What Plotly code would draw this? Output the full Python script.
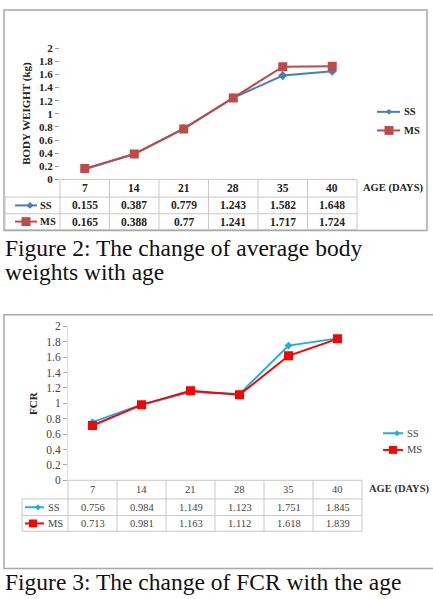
import plotly.graph_objects as go

W, H = 433, 599
ages = ["7", "14", "21", "28", "35", "40"]
bw_ss = [0.155, 0.387, 0.779, 1.243, 1.582, 1.648]
bw_ms = [0.165, 0.388, 0.77, 1.241, 1.717, 1.724]
fcr_ss = [0.756, 0.984, 1.149, 1.123, 1.751, 1.845]
fcr_ms = [0.713, 0.981, 1.163, 1.112, 1.618, 1.839]
yticks = [0, 0.2, 0.4, 0.6, 0.8, 1, 1.2, 1.4, 1.6, 1.8, 2]
ytext = ["0", "0.2", "0.4", "0.6", "0.8", "1", "1.2", "1.4", "1.6", "1.8", "2"]

SERIF = "Liberation Serif"


def X(px):
    return px / W


def Y(py):
    return 1 - py / H


fig = go.Figure()

C1_SS, C1_MS = "#4a7ebb", "#be4b48"
C2_SS, C2_MS = "#1eaee6", "#ff0000"

fig.add_trace(go.Scatter(x=ages, y=bw_ss, mode="lines+markers", xaxis="x", yaxis="y",
                         line=dict(color=C1_SS, width=2),
                         marker=dict(symbol="diamond", size=7, color=C1_SS), showlegend=False))
fig.add_trace(go.Scatter(x=ages, y=bw_ms, mode="lines+markers", xaxis="x", yaxis="y",
                         line=dict(color=C1_MS, width=2),
                         marker=dict(symbol="square", size=9, color=C1_MS), showlegend=False))
fig.add_trace(go.Scatter(x=ages, y=fcr_ss, mode="lines+markers", xaxis="x2", yaxis="y2",
                         line=dict(color=C2_SS, width=2),
                         marker=dict(symbol="diamond", size=6, color=C2_SS), showlegend=False))
fig.add_trace(go.Scatter(x=ages, y=fcr_ms, mode="lines+markers", xaxis="x2", yaxis="y2",
                         line=dict(color=C2_MS, width=2),
                         marker=dict(symbol="square", size=9, color=C2_MS), showlegend=False))

c1 = dict(x0=60, x1=357, ytop=43, ybot=177, rows=[177, 195, 212, 228], tleft=5)
c2 = dict(x0=68, x1=362, ytop=327, ybot=484, rows=[484, 503, 520, 536], tleft=22)

axcommon = dict(type="category", categoryorder="array", categoryarray=ages,
                range=[-0.5, 5.5], showticklabels=False, showgrid=False, zeroline=False,
                showline=False, ticks="")
layout = dict(
    width=W, height=H, margin=dict(l=0, r=0, t=0, b=0),
    paper_bgcolor="white", plot_bgcolor="white", showlegend=False,
    xaxis=dict(domain=[X(c1["x0"]), X(c1["x1"])], anchor="y", **axcommon),
    yaxis=dict(domain=[Y(c1["ybot"]), Y(c1["ytop"])], anchor="x", range=[0, 2],
               tickvals=yticks, ticktext=ytext, showgrid=False, zeroline=False,
               showline=False, ticks="outside", ticklen=4, tickcolor="#999",
               tickfont=dict(family=SERIF, size=11, color="#222", weight="bold")),
    xaxis2=dict(domain=[X(c2["x0"]), X(c2["x1"])], anchor="y2", **axcommon),
    yaxis2=dict(domain=[Y(c2["ybot"]), Y(c2["ytop"])], anchor="x2", range=[0, 2],
                tickvals=yticks, ticktext=ytext, showgrid=False, zeroline=False,
                showline=True, linecolor="#ddd", linewidth=1,
                ticks="outside", ticklen=4, tickcolor="#aaa",
                tickfont=dict(family=SERIF, size=11.5, color="#444")),
)
fig.update_layout(**layout)

shapes = []
ann = []
GRID = "#c8c8c8"


def line(x0, y0, x1, y1, color=GRID, width=1):
    shapes.append(dict(type="line", xref="paper", yref="paper", x0=X(x0), y0=Y(y0),
                       x1=X(x1), y1=Y(y1), line=dict(color=color, width=width)))


def text(x, y, s, size=10, bold=False, color="#111", xanchor="center", family=SERIF):
    ann.append(dict(xref="paper", yref="paper", x=X(x), y=Y(y), text=s, showarrow=False,
                    xanchor=xanchor, yanchor="middle",
                    font=dict(family=family, size=size, color=color,
                              weight="bold" if bold else "normal")))


def key(xl, xr, xm, y, color, sym, size):
    line(xl, y, xr, y, color=color, width=2)
    h = size / 2
    if sym == "square":
        shapes.append(dict(type="rect", xref="paper", yref="paper", x0=X(xm - h), x1=X(xm + h),
                           y0=Y(y + h), y1=Y(y - h), fillcolor=color, line=dict(width=0)))
    else:
        path = "M {} {} L {} {} L {} {} L {} {} Z".format(
            X(xm - h), Y(y), X(xm), Y(y - h), X(xm + h), Y(y), X(xm), Y(y + h))
        shapes.append(dict(type="path", xref="paper", yref="paper", path=path,
                           fillcolor=color, line=dict(width=0)))


def table(c, ss_vals, ms_vals, bold, tcolor, tsize, ss_col, ms_col, ss_size, ms_size, keypos):
    x0, x1 = c["x0"], c["x1"]
    r = c["rows"]
    line(x0, r[0], x1, r[0])
    for yy in r[1:]:
        line(c["tleft"], yy, x1, yy)
    cw = (x1 - x0) / 6
    for i in range(7):
        line(x0 + i * cw, r[0], x0 + i * cw, r[3])
    line(c["tleft"], r[1], c["tleft"], r[3])
    for i, a in enumerate(ages):
        cx = x0 + (i + 0.5) * cw
        text(cx, (r[0] + r[1]) / 2, a, size=tsize, bold=bold, color=tcolor)
        text(cx, (r[1] + r[2]) / 2, f"{ss_vals[i]:g}", size=tsize, bold=bold, color=tcolor)
        text(cx, (r[2] + r[3]) / 2, f"{ms_vals[i]:g}", size=tsize, bold=bold, color=tcolor)
    kl, kr, kss, kms, kt = keypos
    key(kl, kr, kss, (r[1] + r[2]) / 2, ss_col, "diamond", ss_size)
    key(kl, kr, kms, (r[2] + r[3]) / 2, ms_col, "square", ms_size)
    text(kt, (r[1] + r[2]) / 2, "SS", size=10.5, bold=bold, color=tcolor, xanchor="left")
    text(kt, (r[2] + r[3]) / 2, "MS", size=10.5, bold=bold, color=tcolor, xanchor="left")


shapes.append(dict(type="rect", xref="paper", yref="paper", x0=X(4), x1=X(427), y0=Y(229), y1=Y(4),
                   line=dict(color="#a8a8a8", width=1.5)))
shapes.append(dict(type="rect", xref="paper", yref="paper", x0=X(4), x1=X(440), y0=Y(574), y1=Y(315),
                   line=dict(color="#a8a8a8", width=1.5)))

table(c1, bw_ss, bw_ms, True, "#222", 11.5, C1_SS, C1_MS, 7, 9, (15, 37, 30, 26, 38))
table(c2, fcr_ss, fcr_ms, False, "#444", 10.5, C2_SS, C2_MS, 6, 8, (25, 44, 38, 33, 46))

key(377, 400, 389, 108, C1_SS, "diamond", 6)
key(377, 400, 389, 127, C1_MS, "square", 9)
text(402, 108, "SS", size=10.5, bold=True, color="#222", xanchor="left")
text(402, 127, "MS", size=10.5, bold=True, color="#222", xanchor="left")
key(383, 403, 397, 436, C2_SS, "diamond", 6)
key(383, 403, 393, 453, C2_MS, "square", 8)
text(405, 436, "SS", size=10.5, color="#444", xanchor="left")
text(405, 453, "MS", size=10.5, color="#444", xanchor="left")

text(361, 186, "AGE (DAYS)", size=10.5, bold=True, color="#222", xanchor="left")
text(367, 493, "AGE (DAYS)", size=10.5, bold=True, color="#333", xanchor="left")
ann.append(dict(xref="paper", yref="paper", x=X(27), y=Y(110), text="BODY WEIGHT (kg)",
                showarrow=False, textangle=-90, xanchor="center", yanchor="middle",
                font=dict(family=SERIF, size=11, color="#222", weight="bold")))
ann.append(dict(xref="paper", yref="paper", x=X(33), y=Y(405), text="FCR",
                showarrow=False, textangle=-90, xanchor="center", yanchor="middle",
                font=dict(family=SERIF, size=11, color="#222", weight="bold")))

text(3, 247, "Figure 2: The change of average body", size=23.5, color="#111", xanchor="left")
text(3, 271, "weights with age", size=23.5, color="#111", xanchor="left")
text(3, 588, "Figure 3: The change of FCR with the age", size=23.5, color="#111", xanchor="left")

fig.update_layout(shapes=shapes, annotations=ann)
fig.write_html("out.html")
